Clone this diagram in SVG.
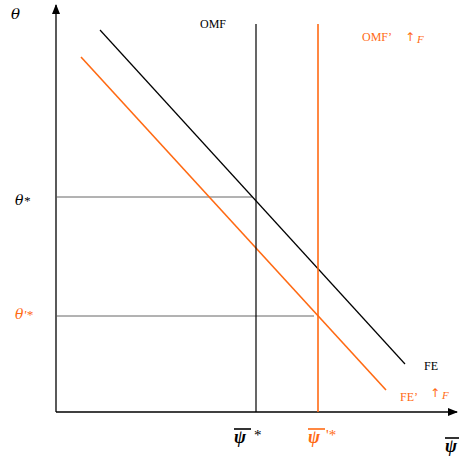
<svg xmlns="http://www.w3.org/2000/svg" width="459" height="460" viewBox="0 0 459 460">
<style>
.t{font-family:"Liberation Serif","DejaVu Serif",serif;fill:#000}
.g{font-family:"DejaVu Serif","Liberation Serif",serif;font-style:italic}
.ar{font-family:"DejaVu Sans","Liberation Sans",sans-serif;font-style:normal}
.o{fill:#FF6A13}
.it{font-style:italic}
.ax{stroke:#000;stroke-width:1.3;fill:none}
.bk{stroke:#000;stroke-width:1.2;fill:none}
.or{stroke:#FF6A13;stroke-width:1.6;fill:none}
.hl{stroke:#555;stroke-width:0.9;fill:none}
.ov{stroke-width:1.6}
</style>
<defs>
<marker id="arr" markerWidth="10" markerHeight="10" refX="9" refY="5" orient="auto" markerUnits="userSpaceOnUse">
<path d="M0,1 L10,5 L0,9 Z" fill="#000"/>
</marker>
</defs>
<rect width="459" height="460" fill="#fff"/>
<g id="connectors">
<line class="ax" x1="56" y1="412" x2="56" y2="5" marker-end="url(#arr)"/>
<line class="ax" x1="56" y1="412" x2="457" y2="412" marker-end="url(#arr)"/>
<line class="hl" x1="56" y1="197" x2="252" y2="197"/>
<line class="hl" x1="56" y1="316" x2="314" y2="316"/>
</g>
<g id="FE"><line class="bk" x1="100" y1="30" x2="405" y2="364"/><text class="t" x="424" y="370" font-size="12">FE</text></g>
<g id="FEprime"><line class="or" x1="81" y1="57" x2="386" y2="390"/><text class="t o" x="400" y="401" font-size="12">FE’</text><text class="t o" x="430" y="397" font-size="11"><tspan class="ar" font-size="12">↑</tspan><tspan class="it" dx="2" dy="2">F</tspan></text></g>
<g id="OMF"><line class="bk" x1="256" y1="24" x2="256" y2="412"/><text class="t" x="200" y="28" font-size="12">OMF</text></g>
<g id="OMFprime"><line class="or" x1="318" y1="24" x2="318" y2="412"/><text class="t o" x="362" y="41" font-size="12">OMF’</text><text class="t o" x="405" y="41" font-size="11"><tspan class="ar" font-size="12">↑</tspan><tspan class="it" dx="2" dy="2">F</tspan></text></g>
<g id="theta-axis"><text class="t g" x="11" y="19" font-size="15">θ</text></g>
<g id="theta-star"><text class="t g" x="15" y="205" font-size="14">θ<tspan class="t" font-size="13">*</tspan></text></g>
<g id="theta-prime-star"><text class="t g o" x="15" y="319" font-size="14">θ<tspan class="t o" font-size="13">'*</tspan></text></g>
<g id="psi-star"><text class="t it" x="234" y="443" font-size="18" font-weight="bold">ψ</text><line x1="234" y1="429" x2="251" y2="429" stroke="#000" class="ov"/><text class="t" x="254" y="440" font-size="15">*</text></g>
<g id="psi-prime-star"><text class="t it o" x="308" y="443" font-size="18" font-weight="bold">ψ</text><line x1="308" y1="429" x2="325" y2="429" stroke="#FF6A13" class="ov"/><text class="t o" x="326" y="440" font-size="15">'*</text></g>
<g id="psi-axis"><text class="t it" x="445" y="452" font-size="18" font-weight="bold">ψ</text><line x1="445" y1="438" x2="459" y2="438" stroke="#000" class="ov"/></g>
</svg>
